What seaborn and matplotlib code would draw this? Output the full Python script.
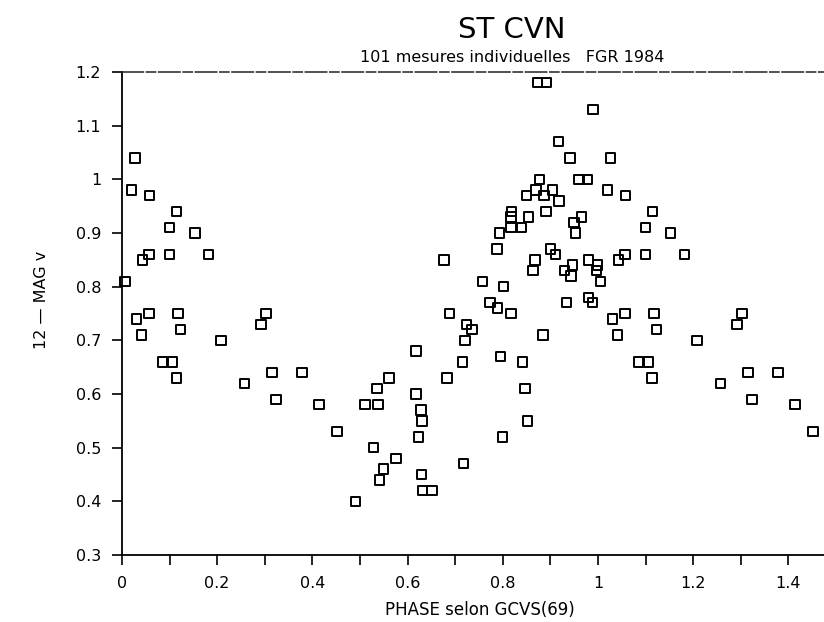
import numpy as np
import pandas as pd
import matplotlib
matplotlib.use("Agg")
import matplotlib.pyplot as plt
import seaborn as sns
from matplotlib.ticker import MultipleLocator, FuncFormatter

# ST CVn, 101 individual measures (phase, 12 - mag v)
phase = [
    0.006, 0.027, 0.020, 0.058, 0.115, 0.100, 0.153, 0.057, 0.043, 0.100,
    0.182, 0.031, 0.057, 0.118, 0.041, 0.123, 0.208, 0.303, 0.292, 0.085,
    0.106, 0.114, 0.257, 0.315, 0.378, 0.324, 0.414, 0.452, 0.491,
    0.511, 0.538, 0.536, 0.561, 0.529, 0.576, 0.549, 0.541, 0.618, 0.618,
    0.628, 0.630, 0.623, 0.629, 0.631, 0.651, 0.677, 0.688, 0.683, 0.716,
    0.718, 0.724, 0.735, 0.721, 0.757, 0.773, 0.789, 0.801, 0.817, 0.793,
    0.788, 0.795, 0.800, 0.819, 0.817, 0.817, 0.840, 0.854, 0.850, 0.841,
    0.847, 0.852, 0.868, 0.864, 0.870, 0.877, 0.873, 0.892, 0.887, 0.904,
    0.891, 0.885, 0.900, 0.911, 0.917, 0.918, 0.930, 0.934, 0.941, 0.943,
    0.947, 0.950, 0.953, 0.966, 0.960, 0.978, 0.980, 0.989, 0.980, 0.990,
    0.999, 0.997,
]
mag = [
    0.81, 1.04, 0.98, 0.97, 0.94, 0.91, 0.90, 0.86, 0.85, 0.86,
    0.86, 0.74, 0.75, 0.75, 0.71, 0.72, 0.70, 0.75, 0.73, 0.66,
    0.66, 0.63, 0.62, 0.64, 0.64, 0.59, 0.58, 0.53, 0.40,
    0.58, 0.58, 0.61, 0.63, 0.50, 0.48, 0.46, 0.44, 0.68, 0.60,
    0.57, 0.55, 0.52, 0.45, 0.42, 0.42, 0.85, 0.75, 0.63, 0.66,
    0.47, 0.73, 0.72, 0.70, 0.81, 0.77, 0.76, 0.80, 0.75, 0.90,
    0.87, 0.67, 0.52, 0.94, 0.93, 0.91, 0.91, 0.93, 0.97, 0.66,
    0.61, 0.55, 0.85, 0.83, 0.98, 1.00, 1.18, 1.18, 0.97, 0.98,
    0.94, 0.71, 0.87, 0.86, 1.07, 0.96, 0.83, 0.77, 1.04, 0.82,
    0.84, 0.92, 0.90, 0.93, 1.00, 1.00, 0.78, 0.77, 0.85, 1.13,
    0.84, 0.83,
]

x_max = 1.475

df = pd.DataFrame({"phase": phase, "mag": mag})
# repeat the start of the cycle after phase 1
repeat = df[df["phase"] < x_max - 1].copy()
repeat["phase"] = repeat["phase"] + 1
plot_df = pd.concat([df, repeat], ignore_index=True)

sns.set_style("ticks")
plt.rcParams["font.family"] = ["DejaVu Sans"]
plt.rcParams["text.color"] = "black"
plt.rcParams["xtick.color"] = "black"
plt.rcParams["ytick.color"] = "black"

fig = plt.figure(figsize=(8.24, 6.22), dpi=100)
ax = fig.add_axes([122 / 824, 1 - 555 / 622, 1 - 122 / 824, (555 - 72) / 622])

sns.scatterplot(data=plot_df, x="phase", y="mag", ax=ax, marker="s", s=46,
                facecolor="none", edgecolor="black", linewidth=1.4, legend=False,
                clip_on=False)

ax.set_xlim(0, x_max)
ax.set_ylim(0.3, 1.2)
ax.xaxis.set_major_locator(MultipleLocator(0.2))
ax.xaxis.set_minor_locator(MultipleLocator(0.1))
ax.yaxis.set_major_locator(MultipleLocator(0.1))
fmt = FuncFormatter(lambda v, p: f"{v:.1f}".rstrip("0").rstrip(".") if abs(v) > 1e-9 else "0")
ax.xaxis.set_major_formatter(fmt)
ax.yaxis.set_major_formatter(fmt)
ax.tick_params(axis="both", which="both", direction="out", length=7, width=1.2,
               colors="black", labelsize=11.5, pad=8)

for side in ["left", "bottom"]:
    ax.spines[side].set_linewidth(1.3)
    ax.spines[side].set_color("black")
ax.spines["right"].set_visible(False)
ax.spines["top"].set_visible(True)
ax.spines["top"].set_linestyle((0, (14, 2, 6, 2)))
ax.spines["top"].set_linewidth(1.1)
ax.spines["top"].set_color("#222222")

ax.set_xlabel("")
ax.set_ylabel("")
fig.text(480 / 824, 1 - 610 / 622, "PHASE selon GCVS(69)", ha="center", va="center", fontsize=12)
fig.text(42 / 824, 1 - 300 / 622, "12 — MAG v", ha="center", va="center", rotation=90, fontsize=11.5)
fig.text(512 / 824, 1 - 30 / 622, "ST CVN", ha="center", va="center", fontsize=21)
fig.text(512 / 824, 1 - 58 / 622, "101 mesures individuelles   FGR 1984", ha="center",
         va="center", fontsize=11.5)

fig.savefig("out.png", dpi=100, facecolor="white")
